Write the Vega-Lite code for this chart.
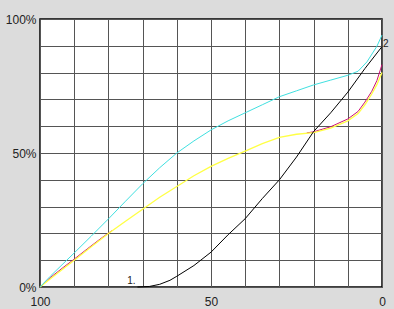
{
  "$schema": "https://vega.github.io/schema/vega-lite/v6.json",
  "width": 342,
  "height": 268,
  "autosize": {"type": "none"},
  "padding": {"left": 40, "top": 19, "right": 12, "bottom": 22},
  "background": "#dcdcdc",
  "config": {
    "view": {"fill": "white", "stroke": "black", "strokeWidth": 1.5},
    "axis": {"domain": false, "ticks": false, "gridColor": "#555555", "gridWidth": 1, "gridOpacity": 1, "labelFont": "Liberation Sans", "labelFontSize": 12, "labelColor": "#222222", "title": null}
  },
  "datasets": {
    "cyan": [
      {"v": 100, "p": 0}, {"v": 97, "p": 4}, {"v": 95, "p": 6.5}, {"v": 90, "p": 12.7}, {"v": 85, "p": 19}, {"v": 80, "p": 25.4}, {"v": 75, "p": 32}, {"v": 70, "p": 38.5}, {"v": 65, "p": 44.5}, {"v": 60, "p": 50}, {"v": 55, "p": 54.5}, {"v": 50, "p": 58.6}, {"v": 45, "p": 62}, {"v": 40, "p": 65}, {"v": 35, "p": 68}, {"v": 30, "p": 71}, {"v": 25, "p": 73.2}, {"v": 20, "p": 75.4}, {"v": 15, "p": 77.2}, {"v": 10, "p": 79}, {"v": 7, "p": 80.5}, {"v": 4.4, "p": 84}, {"v": 1.5, "p": 89.8}, {"v": 0, "p": 94}
    ],
    "yellow": [
      {"v": 100, "p": 0}, {"v": 95, "p": 5}, {"v": 90, "p": 10}, {"v": 85, "p": 15}, {"v": 80, "p": 20}, {"v": 75, "p": 24.5}, {"v": 70, "p": 29}, {"v": 65, "p": 33.5}, {"v": 60, "p": 37.5}, {"v": 55, "p": 41.5}, {"v": 50, "p": 45}, {"v": 45, "p": 48}, {"v": 40, "p": 50.7}, {"v": 35, "p": 53.5}, {"v": 30, "p": 55.8}, {"v": 25, "p": 57}, {"v": 20, "p": 57.6}, {"v": 15, "p": 59.3}, {"v": 10, "p": 62}, {"v": 7, "p": 64.7}, {"v": 5, "p": 68}, {"v": 3, "p": 72}, {"v": 1.5, "p": 75.5}, {"v": 0, "p": 80}
    ],
    "red": [
      {"seg": "a", "v": 100, "p": 0}, {"seg": "a", "v": 97, "p": 3.5}, {"seg": "a", "v": 93, "p": 7.5}, {"seg": "a", "v": 90, "p": 10.4}, {"seg": "a", "v": 86, "p": 14.4}, {"seg": "a", "v": 82, "p": 18.3}, {"seg": "a", "v": 79, "p": 21},
      {"seg": "b", "v": 22, "p": 57.5}, {"seg": "b", "v": 20, "p": 57.9}, {"seg": "b", "v": 15, "p": 59.8}, {"seg": "b", "v": 10, "p": 62.7}, {"seg": "b", "v": 7, "p": 65.5}, {"seg": "b", "v": 5, "p": 69}, {"seg": "b", "v": 3, "p": 73}, {"seg": "b", "v": 1.5, "p": 77}, {"seg": "b", "v": 0, "p": 83}
    ],
    "black": [
      {"v": 71.5, "p": 0}, {"v": 68, "p": 0.2}, {"v": 65, "p": 1}, {"v": 62, "p": 2.5}, {"v": 60, "p": 4}, {"v": 55, "p": 8}, {"v": 50, "p": 13}, {"v": 45, "p": 19.5}, {"v": 40, "p": 25.5}, {"v": 35, "p": 33}, {"v": 30, "p": 40}, {"v": 25, "p": 48.5}, {"v": 20, "p": 58}, {"v": 15, "p": 65}, {"v": 10, "p": 72.7}, {"v": 5, "p": 81.5}, {"v": 0, "p": 89.7}
    ],
    "labels": [
      {"v": 71.5, "p": 0, "t": "1."},
      {"v": 0, "p": 89.7, "t": "2"}
    ]
  },
  "encoding": {
    "x": {"field": "v", "type": "quantitative", "scale": {"domain": [0, 100], "reverse": true, "nice": false},
      "axis": {"values": [0, 10, 20, 30, 40, 50, 60, 70, 80, 90, 100], "labelExpr": "datum.value % 50 === 0 ? datum.label : ''", "labelFlush": false, "labelPadding": 9, "labelOverlap": false}},
    "y": {"field": "p", "type": "quantitative", "scale": {"domain": [0, 100], "nice": false},
      "axis": {"values": [0, 10, 20, 30, 40, 50, 60, 70, 80, 90, 100], "labelExpr": "datum.value % 50 === 0 ? datum.value + '%' : ''", "labelPadding": 4, "labelOverlap": false}}
  },
  "layer": [
    {"data": {"name": "red"}, "mark": {"type": "line", "color": "#cc1177", "strokeWidth": 1}, "encoding": {"detail": {"field": "seg"}}},
    {"data": {"name": "yellow"}, "mark": {"type": "line", "color": "#ffff44", "strokeWidth": 1.3}},
    {"data": {"name": "cyan"}, "mark": {"type": "line", "color": "#40e0e0", "strokeWidth": 1}},
    {"data": {"name": "black"}, "mark": {"type": "line", "color": "black", "strokeWidth": 1}},
    {"data": {"name": "labels"}, "mark": {"type": "text", "font": "Liberation Sans", "fontSize": 10, "fill": "#222222", "align": {"expr": "datum.t == '2' ? 'left' : 'right'"}, "baseline": "bottom", "dx": {"expr": "datum.t == '2' ? 1 : -2"}, "dy": {"expr": "datum.t == '2' ? 2 : -1"}},
      "encoding": {"text": {"field": "t"}}}
  ]
}
